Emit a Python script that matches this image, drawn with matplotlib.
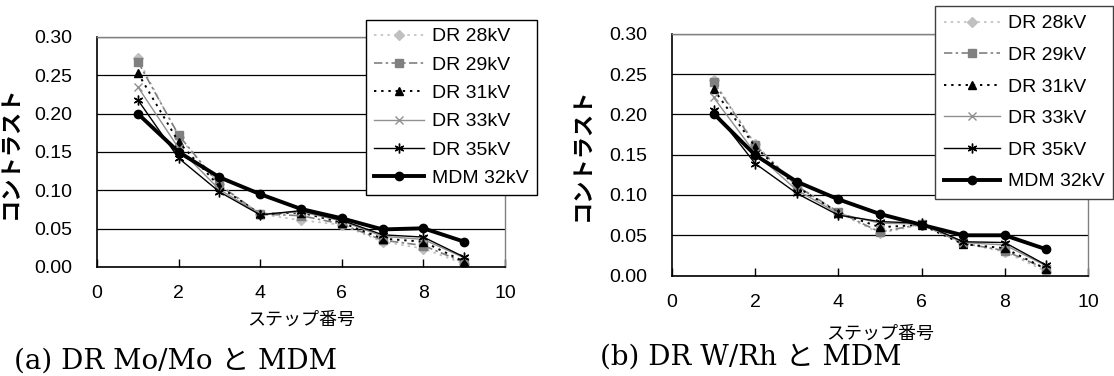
import numpy as np
import matplotlib
matplotlib.use("Agg")
import matplotlib.pyplot as plt

matplotlib.rc('font', family=['Liberation Sans', 'Noto Sans CJK JP'], size=14)

# step numbers
steps = [1, 2, 3, 4, 5, 6, 7, 8, 9]

# (a) DR Mo/Mo vs MDM
a_dr28 = [0.272, 0.170, 0.108, 0.069, 0.061, 0.055, 0.033, 0.024, 0.004]
a_dr29 = [0.268, 0.172, 0.107, 0.069, 0.067, 0.056, 0.035, 0.028, 0.006]
a_dr31 = [0.253, 0.163, 0.105, 0.069, 0.071, 0.058, 0.037, 0.033, 0.007]
a_dr33 = [0.235, 0.155, 0.101, 0.069, 0.072, 0.060, 0.040, 0.036, 0.012]
a_dr35 = [0.218, 0.142, 0.098, 0.068, 0.0735, 0.061, 0.042, 0.039, 0.013]
a_mdm = [0.200, 0.150, 0.117, 0.095, 0.0757, 0.0635, 0.049, 0.0505, 0.033]

# (b) DR W/Rh vs MDM
b_dr28 = [0.242, 0.163, 0.112, 0.078, 0.0525, 0.063, 0.040, 0.0296, 0.005]
b_dr29 = [0.240, 0.162, 0.111, 0.079, 0.054, 0.064, 0.040, 0.031, 0.008]
b_dr31 = [0.231, 0.160, 0.110, 0.078, 0.060, 0.063, 0.039, 0.034, 0.008]
b_dr33 = [0.221, 0.152, 0.106, 0.077, 0.065, 0.064, 0.041, 0.038, 0.012]
b_dr35 = [0.205, 0.139, 0.102, 0.075, 0.067, 0.065, 0.042, 0.041, 0.013]
b_mdm = [0.201, 0.1495, 0.1165, 0.0946, 0.0764, 0.063, 0.050, 0.050, 0.0326]

labels = ["DR 28kV", "DR 29kV", "DR 31kV", "DR 33kV", "DR 35kV", "MDM 32kV"]
yticks = [0.00, 0.05, 0.10, 0.15, 0.20, 0.25, 0.30]
xticks = [0, 2, 4, 6, 8, 10]

styles = [
    dict(color="#c0c0c0", ls=(0, (1.5, 2.5)), lw=1.2, marker="D", ms=5),
    dict(color="#808080", ls=(0, (5, 2, 1.5, 2)), lw=1.2, marker="s", ms=6),
    dict(color="black", ls=(0, (1.2, 2.5)), lw=1.4, marker="^", ms=6),
    dict(color="#909090", ls="-", lw=1.0, marker="x", ms=6, mew=1.0),
    dict(color="black", ls="-", lw=1.0, marker=(6, 2, 0), ms=7, mew=1.0),
    dict(color="black", ls="-", lw=2.8, marker="o", ms=6),
]

fig = plt.figure(figsize=(11.14, 3.76), dpi=100)
ax1 = fig.add_axes([0.0871, 0.2899, 0.3662, 0.6117])
ax2 = fig.add_axes([0.6032, 0.2670, 0.3734, 0.6434])

panels = [
    (ax1, [a_dr28, a_dr29, a_dr31, a_dr33, a_dr35, a_mdm]),
    (ax2, [b_dr28, b_dr29, b_dr31, b_dr33, b_dr35, b_mdm]),
]

for ax, series in panels:
    for vals, lab, st in zip(series, labels, styles):
        ax.plot(steps, vals, label=lab, **st)
    ax.set_xlim(0, 10)
    ax.set_ylim(0, 0.30)
    ax.set_xticks(xticks)
    ax.set_yticks(yticks)
    ax.set_yticklabels(["%.2f" % v for v in yticks])
    ax.yaxis.grid(True, color="black", lw=0.9)
    ax.set_axisbelow(True)
    ax.tick_params(axis="x", direction="in", length=6, width=1, pad=13)
    ax.tick_params(axis="y", length=0, pad=18)
    for s in ["left", "bottom"]:
        ax.spines[s].set_linewidth(1.2)
    for s in ["top", "right"]:
        ax.spines[s].set_color("#808080")
        ax.spines[s].set_linewidth(1.0)

ax1.set_ylabel("コントラスト", fontsize=16, fontweight="bold", labelpad=9)
ax2.set_ylabel("コントラスト", fontsize=16, fontweight="bold", labelpad=11)
ax1.set_xlabel("ステップ番号", fontsize=13, labelpad=7)
ax2.set_xlabel("ステップ番号", fontsize=13, labelpad=11)

leg1 = fig.legend(*ax1.get_legend_handles_labels(), loc="upper left",
                  bbox_to_anchor=(366 / 1114, 1 - 20 / 376), fancybox=False,
                  edgecolor="black", framealpha=1, handlelength=2.6,
                  handletextpad=0.4, labelspacing=0.55, borderpad=0.4,
                  borderaxespad=0, fontsize=14)
leg1.get_frame().set_linewidth(1.0)
leg2 = fig.legend(*ax2.get_legend_handles_labels(), loc="upper left",
                  bbox_to_anchor=(935 / 1114, 1 - 6 / 376), fancybox=False,
                  edgecolor="#404040", framealpha=1, handlelength=2.9,
                  handletextpad=0.4, labelspacing=0.72, borderpad=0.45,
                  borderaxespad=0, fontsize=14)
leg2.get_frame().set_linewidth(1.0)

cap_font = ['DejaVu Serif', 'Noto Sans CJK JP']
fig.text(14 / 1114, 1 - 361 / 376, "(a) DR Mo/Mo と MDM", family=cap_font,
         fontsize=20, va="center", ha="left")
fig.text(600 / 1114, 1 - 357 / 376, "(b) DR W/Rh と MDM", family=cap_font,
         fontsize=20, va="center", ha="left")

plt.savefig("out.png", dpi=100)
